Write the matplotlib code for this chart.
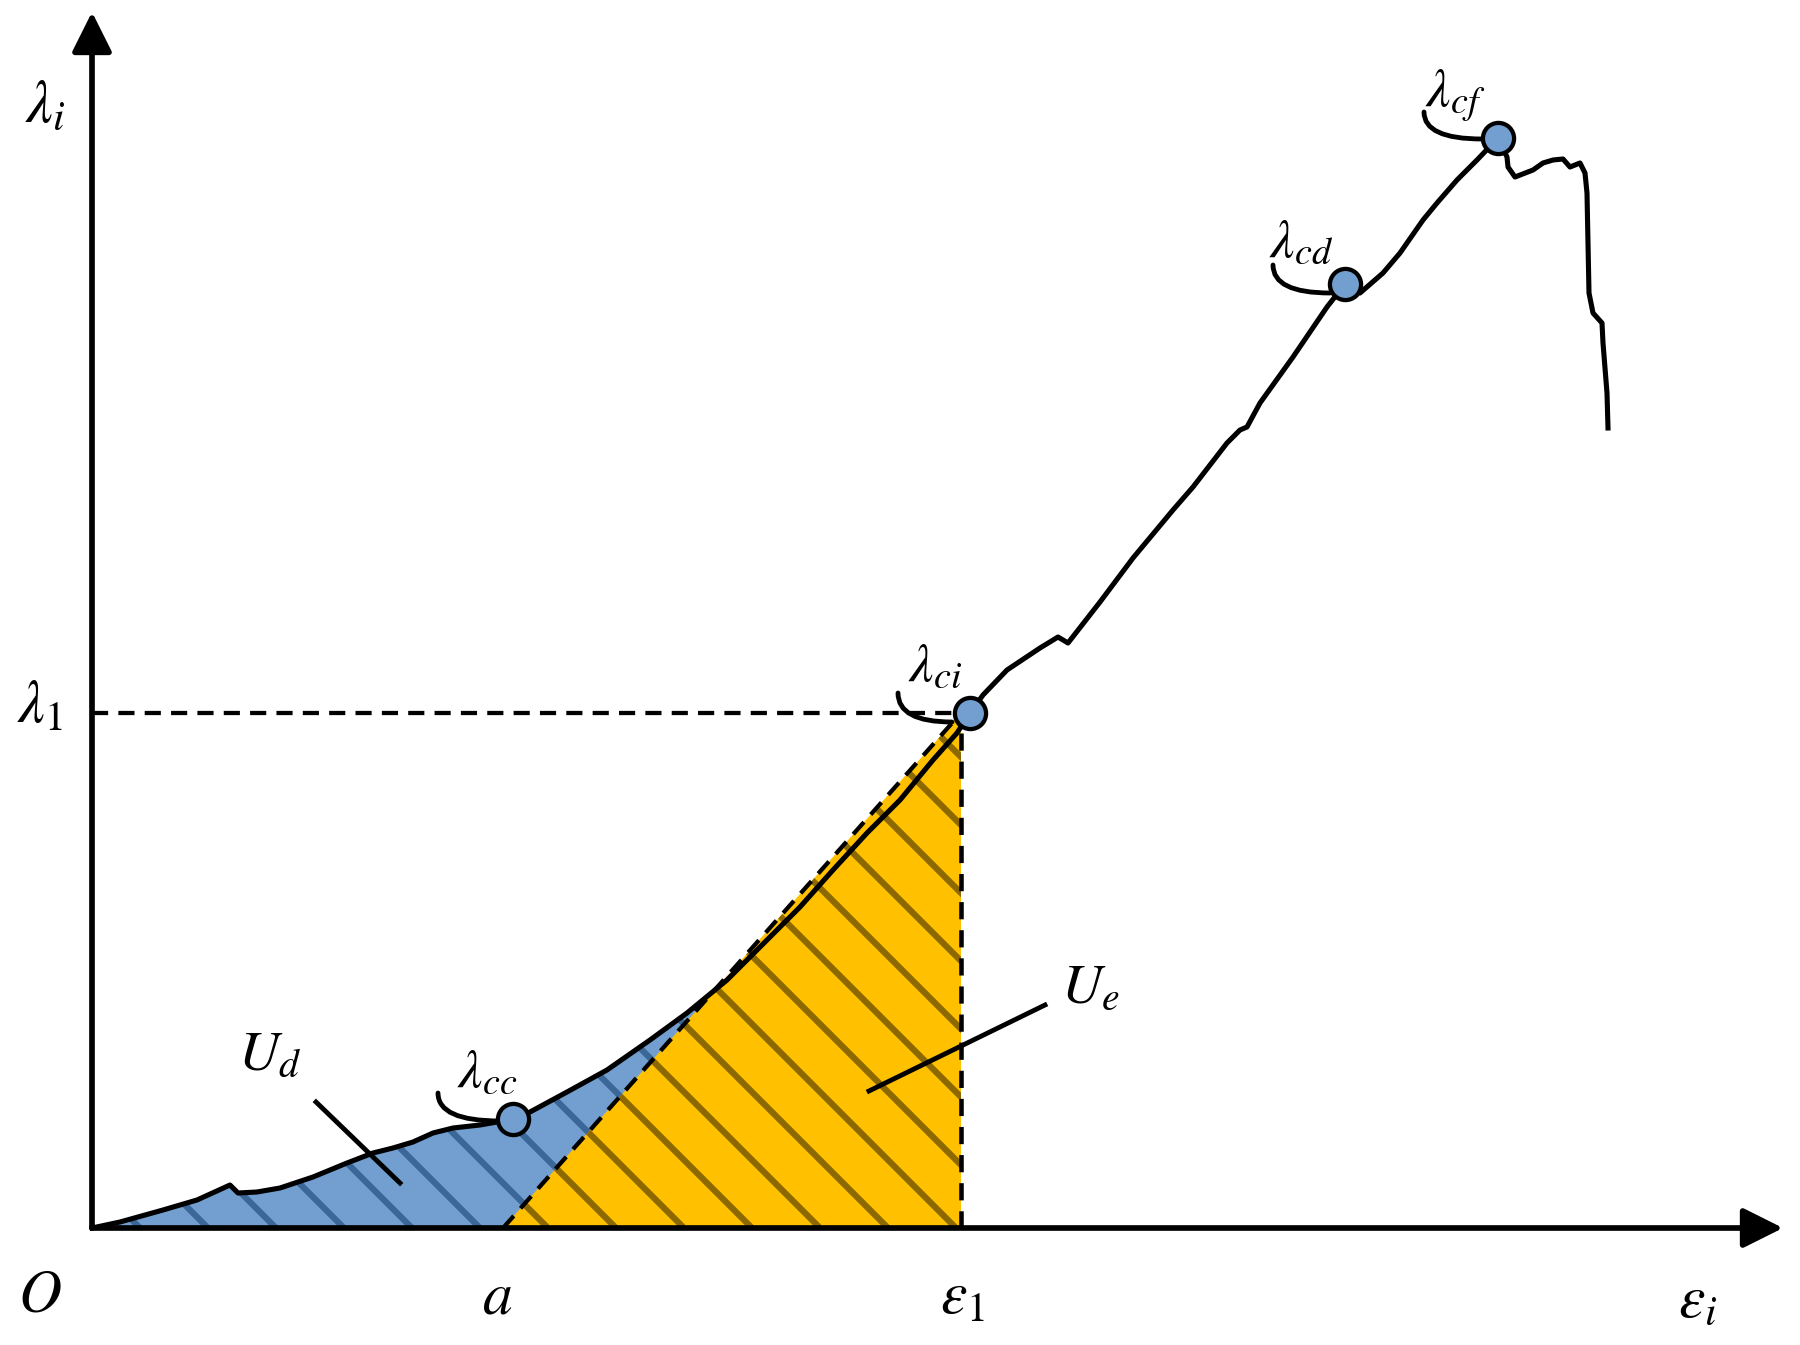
import numpy as np
import matplotlib.pyplot as plt

plt.rcParams['mathtext.fontset'] = 'stix'
plt.rcParams['hatch.linewidth'] = 1.1

# stress-strain curve (arbitrary units)
strain = [0.00, 0.28, 0.71, 1.05, 1.38, 1.46, 1.65, 1.88, 2.21, 2.55, 2.81, 3.01,
          3.21, 3.41, 3.61, 3.88, 4.05, 4.21, 4.38, 4.75, 5.15, 5.58, 5.95, 6.35,
          6.75, 7.08, 7.41, 7.75, 8.08, 8.41, 8.65, 8.78, 8.91, 9.15, 9.48, 9.66,
          9.76, 10.08, 10.41, 10.81, 11.01, 11.35, 11.48, 11.55, 11.68, 12.01,
          12.35, 12.53, 12.68, 12.91, 13.08, 13.31, 13.45, 13.65, 13.85, 14.06,
          14.15, 14.16, 14.23, 14.41, 14.51, 14.61, 14.71, 14.78, 14.88, 14.93,
          14.95, 14.96, 14.97, 15.01, 15.10, 15.11, 15.15, 15.16]
stress = [0.00, 0.06, 0.18, 0.28, 0.43, 0.35, 0.36, 0.40, 0.51, 0.65, 0.75, 0.80,
          0.86, 0.95, 1.00, 1.03, 1.06, 1.09, 1.16, 1.36, 1.58, 1.88, 2.15, 2.48,
          2.88, 3.21, 3.58, 3.95, 4.28, 4.68, 4.95, 5.15, 5.33, 5.58, 5.80, 5.91,
          5.85, 6.26, 6.70, 7.18, 7.41, 7.85, 7.98, 8.01, 8.25, 8.71,
          9.21, 9.44, 9.35, 9.55, 9.75, 10.08, 10.25, 10.48, 10.68, 10.90,
          10.71, 10.61, 10.51, 10.58, 10.65, 10.68, 10.69, 10.61, 10.65, 10.55,
          10.35, 9.85, 9.35, 9.15, 9.05, 8.85, 8.35, 8.00]

a_val = 4.11
eps1 = 8.69
lam1 = 5.15

# characteristic points
pt_x = [4.21, 8.78, 12.53, 14.06]
pt_y = [1.09, 5.15, 9.44, 10.90]
pt_labels = [r'$\lambda_{cc}$', r'$\lambda_{ci}$', r'$\lambda_{cd}$', r'$\lambda_{cf}$']
label_pos = [(3.95, 1.56), (8.43, 5.62), (12.09, 9.86), (13.63, 11.32)]
leader_start = [(3.46, 1.35), (8.06, 5.35), (11.81, 9.63), (13.32, 11.16)]
leader_end = [(4.08, 1.07), (8.60, 5.06), (12.38, 9.35), (13.90, 10.89)]

BLUE = '#729fcf'
BLUE_HATCH = '#3b6798'
YELLOW = '#ffc000'
YELLOW_HATCH = '#8c6900'

DPI = 408
fig = plt.figure(figsize=(1800 / DPI, 1345 / DPI), dpi=DPI)
ax = fig.add_axes([0, 0, 1, 1])
ax.set_xlim(-0.92, 17.08)
ax.set_ylim(-1.17, 12.28)
ax.axis('off')

# dissipated energy U_d: area under curve up to eps1
xs = np.array(strain)
ys = np.array(stress)
x_fill = np.append(xs[xs < eps1], eps1)
y_fill = np.interp(x_fill, xs, ys)
ax.fill_between(x_fill, 0, y_fill, facecolor=BLUE, edgecolor='none', zorder=1)
ax.fill_between(x_fill, 0, y_fill, facecolor='none', edgecolor=BLUE_HATCH,
                hatch='\\\\', lw=0, zorder=1.1)

# elastic energy U_e: triangle under unloading line
tri_x = [a_val, eps1, eps1]
tri_y = [0, lam1, 0]
ax.fill(tri_x, tri_y, facecolor=YELLOW, edgecolor='none', zorder=1.2)
ax.fill(tri_x, tri_y, facecolor='none', edgecolor=YELLOW_HATCH, hatch='\\\\',
        lw=0, zorder=1.3)

# dashed guide lines
dash = (0, (3.8, 2.4))
ax.plot([0, pt_x[1]], [lam1, lam1], color='k', lw=0.75, ls=dash, zorder=2)
ax.plot([eps1, eps1], [0, lam1], color='k', lw=0.8, ls=dash, zorder=2)
ax.plot([a_val, eps1], [0, lam1], color='k', lw=0.75, ls=dash, zorder=2)

# curve
ax.plot(strain, stress, color='k', lw=0.9, zorder=3, solid_joinstyle='round')

# axes with arrows
arrow_kw = dict(arrowstyle='-|>,head_length=0.6,head_width=0.3', lw=1.0,
                color='k', mutation_scale=10, shrinkA=0, shrinkB=0)
ax.annotate('', xy=(16.91, 0), xytext=(0, 0), arrowprops=arrow_kw, zorder=4)
ax.annotate('', xy=(0, 12.16), xytext=(0, 0), arrowprops=arrow_kw, zorder=4)

# leaders and markers
for (sx, sy), (ex, ey) in zip(leader_start, leader_end):
    ax.annotate('', xy=(ex, ey), xytext=(sx, sy),
                arrowprops=dict(arrowstyle='-', lw=0.85, color='k',
                                connectionstyle='angle3,angleA=90,angleB=0',
                                shrinkA=0, shrinkB=0), zorder=4)
ax.plot(pt_x, pt_y, 'o', ms=5.5, mfc=BLUE, mec='k', mew=0.75, zorder=5)
for lab, (lx, ly) in zip(pt_labels, label_pos):
    ax.text(lx, ly, lab, fontsize=9.6, ha='center', va='center', zorder=6)

# energy labels
ax.plot([2.24, 3.08], [1.26, 0.45], color='k', lw=0.85, zorder=4)
ax.plot([9.53, 7.77], [2.23, 1.37], color='k', lw=0.85, zorder=4)
ax.text(1.78, 1.74, r'$U_d$', fontsize=10, ha='center', va='center')
ax.text(9.99, 2.41, r'$U_e$', fontsize=10, ha='center', va='center')

# axis labels
fs = 10.5
ax.text(-0.47, 11.23, r'$\lambda_i$', fontsize=fs, ha='center', va='center')
ax.text(-0.52, lam1 + 0.07, r'$\lambda_1$', fontsize=fs, ha='center', va='center')
ax.text(-0.52, -0.67, r'$O$', fontsize=fs, ha='center', va='center')
ax.text(a_val - 0.06, -0.69, r'$a$', fontsize=fs, ha='center', va='center')
ax.text(eps1 + 0.01, -0.69, r'$\varepsilon_1$', fontsize=fs, ha='center', va='center')
ax.text(16.06, -0.72, r'$\varepsilon_i$', fontsize=fs, ha='center', va='center')

fig.savefig('out.png', dpi=DPI)
